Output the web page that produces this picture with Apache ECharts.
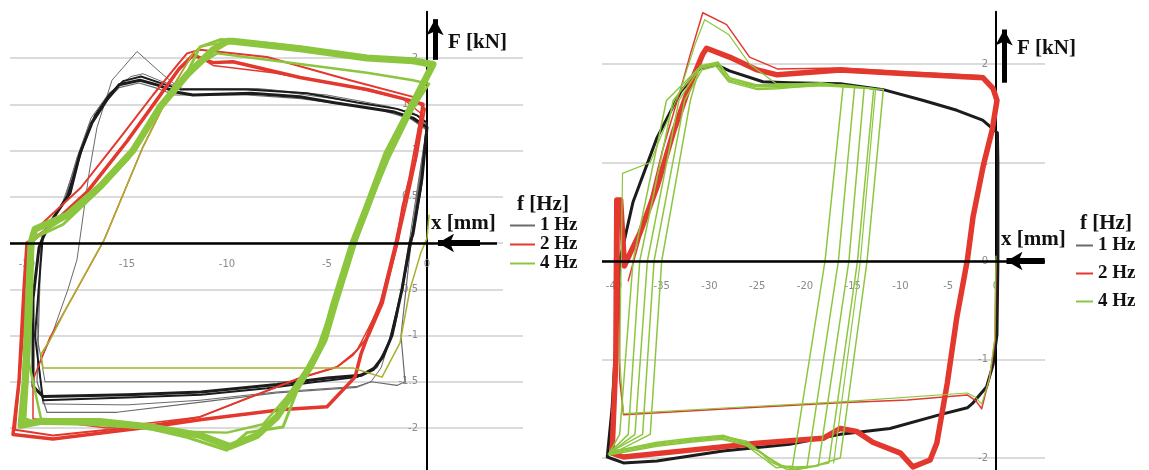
<!DOCTYPE html>
<html>
<head>
<meta charset="utf-8">
<script src="https://cdn.jsdelivr.net/npm/echarts@6/dist/echarts.min.js"></script>
<style>
  html, body { margin: 0; padding: 0; background: #fff; }
  #chart { width: 1149px; height: 470px; }
</style>
</head>
<body>
<div id="chart"></div>
<script>
// tick labels
var leftXTicks = [-20, -15, -10, -5, 0];
var leftYTicks = [-2, -1.5, -1, -0.5, 0.5, 1, 1.5, 2];
var rightXTicks = [-40, -35, -30, -25, -20, -15, -10, -5, 0];
var rightYTicks = [-2, -1, 0, 1, 2];
var freqs = ['1 Hz', '2 Hz', '4 Hz'];

// ---- left chart, x [mm] / F [kN] ----
// 1 Hz
var leftBlackA = [[0, 1.25], [-0.25, 0.7], [-0.7, 0.1], [-0.85, 0], [-1.25, -0.5], [-1.75, -1.0], [-2.2, -1.23], [-2.7, -1.37], [-3.3, -1.43], [-5, -1.46], [-7.5, -1.53], [-11.3, -1.61], [-15, -1.64], [-19.2, -1.66], [-19.7, -1.55], [-19.7, -0.6], [-19.4, -0.05], [-19, 0.17], [-17.85, 0.54], [-17.35, 0.97], [-16.75, 1.3], [-16, 1.55], [-15.4, 1.71], [-14.35, 1.76], [-13.5, 1.71], [-12.5, 1.63], [-11.7, 1.6], [-8.8, 1.62], [-6.35, 1.58], [-4.7, 1.52], [-1.7, 1.42], [-0.7, 1.35], [0, 1.25]];
var leftBlackB = [[0, 1.3], [-0.3, 0.6], [-0.8, 0], [-1.3, -0.55], [-1.9, -1.08], [-2.5, -1.33], [-3.5, -1.45], [-5.5, -1.5], [-8, -1.57], [-11.3, -1.64], [-15, -1.67], [-19.2, -1.7], [-19.6, -1.0], [-19.2, 0.1], [-18, 0.5], [-17.2, 1.05], [-16.6, 1.38], [-15.9, 1.6], [-15.2, 1.75], [-14.3, 1.8], [-13.2, 1.72], [-12.3, 1.66], [-9, 1.66], [-6, 1.62], [-3.5, 1.52], [-1.5, 1.45], [-0.5, 1.38], [0, 1.3]];
var leftBlackC = [[0, 1.28], [-0.9, 0], [-1.5, -0.8], [-2.3, -1.35], [-2.8, -1.5], [-3.5, -1.55], [-7.5, -1.61], [-11.35, -1.7], [-15, -1.75], [-19.2, -1.74], [-19.4, -1.3], [-18.85, -1.05], [-17.95, -0.5], [-17.5, -0.18], [-16.9, 0.75], [-16.5, 1.25], [-15.75, 1.76], [-14.5, 2.07], [-13.2, 1.82], [-12.3, 1.66], [-8, 1.66], [-4.7, 1.56], [-1.7, 1.46], [-0.5, 1.38], [0, 1.28]];
var leftBlackD = [[0, 1.22], [-0.8, 0], [-1.3, -1.0], [-1.1, -1.5], [-1.5, -1.54], [-2.8, -1.5], [-3.5, -1.56], [-7.5, -1.62], [-11.3, -1.72], [-15.5, -1.83], [-19, -1.83], [-19.5, -1.5], [-19.3, 0], [-18.1, 0.48], [-17.5, 0.92], [-16.9, 1.28], [-16.1, 1.52], [-15.4, 1.68], [-14.4, 1.73], [-13.6, 1.68], [-12.6, 1.6], [-9, 1.6], [-6.3, 1.56], [-2.5, 1.45], [-0.8, 1.34], [0, 1.22]];
var leftBlackE = [[0, 1.27], [-0.8, 0.05], [-1.6, -0.9], [-2.5, -1.35], [-3.3, -1.44], [-7.2, -1.5], [-19.1, -1.5], [-19.5, -1.0], [-19.3, 0], [-18.2, 0.45], [-17.4, 0.95], [-16.8, 1.35], [-15.9, 1.62], [-14.8, 1.8], [-14.2, 1.83], [-13.3, 1.75], [-12.2, 1.67], [-8.5, 1.67], [-5, 1.6], [-2, 1.48], [-0.6, 1.4], [0, 1.27]];
// 2 Hz
var leftRedA = [[-0.2, 1.5], [-0.6, 0.9], [-1.2, 0.39], [-1.5, 0], [-2.25, -0.62], [-2.7, -0.85], [-3.3, -1.2], [-3.6, -1.45], [-5, -1.77], [-7.2, -1.8], [-11.35, -1.91], [-13.85, -1.99], [-16.5, -2.06], [-18.7, -2.12], [-20.7, -2.07], [-20.4, -1.5], [-20.15, -0.5], [-20.0, 0], [-19.6, 0.05], [-19, 0.15], [-17, 0.55], [-15, 1.1], [-13.5, 1.55], [-12.4, 1.88], [-11.7, 2.03], [-10.7, 1.95], [-9.7, 1.96], [-6.35, 1.79], [-3, 1.66], [-1, 1.55], [-0.2, 1.5]];
var leftRedB = [[-0.1, 1.45], [-0.5, 0.95], [-1.0, 0.45], [-1.45, 0.03], [-2.2, -0.65], [-2.9, -1.0], [-3.7, -1.21], [-4.5, -1.34], [-6.35, -1.46], [-9, -1.68], [-11.35, -1.88], [-13.85, -1.97], [-18.7, -2.08], [-20.6, -2.02], [-20.2, -1.0], [-19.8, 0.1], [-19.3, 0.2], [-17.3, 0.6], [-15.3, 1.15], [-13.7, 1.6], [-12.5, 1.92], [-12, 2.05], [-11.35, 2.09], [-8, 2.01], [-3.85, 1.76], [-0.7, 1.58], [-0.1, 1.45]];
var leftRedC = [[-0.3, 1.4], [-0.9, 0.7], [-1.3, 0.3], [-1.6, 0], [-2.4, -0.7], [-3.5, -1.16], [-4.5, -1.34], [-6.35, -1.46], [-11.35, -1.88], [-16, -2.0], [-19.7, -1.9], [-19.7, -1.48], [-18.85, -1.02], [-17.5, -0.5], [-16.15, 0.03], [-14.2, 1.04], [-12.7, 1.69], [-11.7, 2.05], [-10.7, 1.92], [-7.7, 1.84], [-4, 1.7], [-1.2, 1.56], [-0.3, 1.4]];
// 4 Hz
var leftGreenA = [[0.3, 1.93], [-0.7, 1.51], [-2, 0.97], [-3, 0.39], [-3.7, 0], [-4.7, -0.69], [-5.15, -1.05], [-5.85, -1.34], [-6.7, -1.62], [-7.5, -1.88], [-8.5, -2.08], [-9.85, -2.2], [-11.35, -2.08], [-13.8, -1.99], [-16.35, -1.93], [-19.35, -1.93], [-20.3, -1.97], [-20.1, -1.5], [-19.9, -0.5], [-19.8, 0], [-19.6, 0.15], [-18, 0.3], [-16.3, 0.62], [-14.7, 1.0], [-13.35, 1.47], [-12, 1.82], [-10.7, 2.09], [-10, 2.18], [-9.7, 2.18], [-6.35, 2.1], [-3, 2.0], [-0.7, 1.97], [0.3, 1.93]];
var leftGreenB = [[0.2, 1.9], [-0.5, 1.6], [-1.8, 1.05], [-2.8, 0.45], [-3.5, 0.05], [-4.5, -0.65], [-5.0, -1.02], [-5.7, -1.32], [-6.5, -1.6], [-7.2, -1.99], [-9, -2.05], [-10, -2.24], [-12, -2.1], [-14, -2.0], [-17, -1.96], [-19.5, -1.95], [-20.1, -1.9], [-19.8, -0.8], [-19.7, 0.05], [-18.2, 0.2], [-16.5, 0.55], [-14.9, 0.92], [-13.5, 1.4], [-12.2, 1.75], [-11.35, 2.12], [-10.3, 2.2], [-8, 2.16], [-6.35, 2.12], [-3, 2.01], [-0.7, 1.98], [0.2, 1.9]];
var leftGreenC = [[0.1, 1.72], [-0.7, 1.45], [-1.9, 0.92], [-3.1, 0.3], [-3.9, -0.1], [-4.8, -0.72], [-5.5, -1.15], [-6.1, -1.38], [-7, -1.66], [-8.2, -1.96], [-10, -2.05], [-12, -2.04], [-15, -1.97], [-19.3, -1.9], [-19.9, -1.3], [-19.8, 0], [-19.2, 0.12], [-17.5, 0.35], [-15.8, 0.72], [-14.4, 1.12], [-13, 1.58], [-11.8, 1.88], [-10.5, 2.05], [-8, 1.98], [-3, 1.84], [-0.7, 1.76], [0.1, 1.72]];
var leftGreenD = [[0.1, 0.3], [0, 0.05], [-0.3, -0.1], [-0.85, -0.5], [-1.35, -1.08], [-2.25, -1.45], [-3, -1.4], [-3.7, -1.35], [-19.2, -1.35], [-19.3, -1.2], [-18.85, -1.05], [-18, -0.69], [-16.15, 0.03], [-14.2, 1.04], [-12.7, 1.69], [-11.7, 2.05], [-11.35, 2.12], [-9.7, 2.19], [-6.35, 2.12], [-3, 2.0], [-0.7, 1.98], [0.3, 1.95]];

// ---- right chart ----
// 1 Hz
var rightBlackA = [[0.15, 1.3], [0.2, 1.0], [0.2, 0], [0.1, -0.75], [-0.3, -1.05], [-1, -1.28], [-2.4, -1.44], [-3, -1.49], [-5.85, -1.56], [-11.1, -1.7], [-16.3, -1.76], [-21.6, -1.86], [-28.6, -1.93], [-35.5, -2.03], [-39, -2.05], [-40.7, -1.99], [-40.2, -1.5], [-39.6, -0.5], [-39.4, 0], [-38, 0.6], [-35.5, 1.25], [-33, 1.72], [-31, 1.96], [-29.2, 1.99], [-27.9, 1.93], [-24.4, 1.82], [-21.6, 1.81], [-16.3, 1.8], [-11.8, 1.74], [-7.6, 1.63], [-4.1, 1.53], [-1.4, 1.43], [0.15, 1.3]];
// 2 Hz
var rightRedA = [[0.1, 1.63], [-0.4, 1.33], [-1.35, 0.96], [-2.4, 0.45], [-3, 0.01], [-4.1, -0.57], [-5.1, -1.24], [-6.2, -1.85], [-6.9, -2.02], [-8.7, -2.09], [-10, -1.95], [-12.9, -1.84], [-14.6, -1.73], [-16.3, -1.7], [-18.1, -1.8], [-25, -1.85], [-32, -1.92], [-39, -1.99], [-40.2, -1.95], [-39.8, -1.0], [-39.7, 0.62], [-39.3, 0.62], [-38.9, -0.05], [-38.3, 0.08], [-37.3, 0.28], [-35.5, 0.75], [-33.8, 1.3], [-32, 1.8], [-30.7, 2.1], [-30.3, 2.16], [-27.9, 2.07], [-25, 1.94], [-22.9, 1.89], [-16.3, 1.94], [-9.3, 1.9], [-1.35, 1.86], [-0.3, 1.75], [0.1, 1.63]];
var rightRedB = [[-38.5, -0.2], [-36.5, 0.5], [-34.9, 1.13], [-33, 1.75], [-32, 2.1], [-30.7, 2.52], [-28.2, 2.4], [-25.8, 2.07], [-22.9, 1.95], [-16.3, 1.96], [-9.3, 1.92], [-1.35, 1.88], [-0.2, 1.7], [0.1, 1.6]];
var rightRedC = [[0, 0], [-0.1, -0.8], [-0.6, -1.15], [-1.5, -1.5], [-2.1, -1.42], [-3, -1.36], [-9.3, -1.41], [-16.3, -1.44], [-28, -1.5], [-39, -1.56], [-39.4, -1.2], [-39.5, 0.5]];
// 4 Hz
var rightGreenA = [[-11.8, 1.74], [-13.5, 0], [-16.3, -2.0], [-19, -2.08], [-22, -2.1], [-24, -1.99], [-26.1, -1.85], [-28.6, -1.79], [-32, -1.82], [-35.5, -1.85], [-40.5, -1.95], [-39.4, -1.76], [-38, 0], [-34.5, 1.63], [-31, 1.97], [-29.2, 2.0], [-27.9, 1.83], [-25, 1.77], [-22.9, 1.77], [-18.1, 1.79], [-11.8, 1.74]];
var rightGreenB = [[-12.8, 1.75], [-14.5, 0], [-17.5, -2.05], [-20, -2.1], [-22.5, -2.08], [-24.2, -1.97], [-26.1, -1.83], [-28.6, -1.78], [-32, -1.81], [-35.5, -1.86], [-40.3, -1.93], [-38.5, -1.76], [-37.3, 0], [-33.8, 1.63], [-31.2, 1.95], [-29.4, 1.99], [-28, 1.84], [-25, 1.75], [-22.9, 1.76], [-18.1, 1.78], [-12.8, 1.75]];
var rightGreenC = [[-13.8, 1.76], [-15.4, 0], [-18.6, -2.08], [-21, -2.12], [-23, -2.06], [-24.5, -1.95], [-26.3, -1.86], [-28.8, -1.8], [-32, -1.83], [-35.5, -1.87], [-40.6, -1.96], [-37.8, -1.76], [-36.5, 0], [-33.2, 1.63], [-31, 1.96], [-29.1, 2.01], [-27.8, 1.85], [-25.2, 1.78], [-22.8, 1.78], [-18, 1.8], [-13.8, 1.76]];
var rightGreenD = [[-14.8, 1.77], [-16.5, 0], [-19.8, -2.1], [-21.8, -2.12], [-23.6, -2.04], [-24.8, -1.93], [-26.4, -1.84], [-28.5, -1.77], [-32, -1.8], [-35.5, -1.84], [-40.4, -1.94], [-37, -1.76], [-35.8, 0], [-32.6, 1.63], [-30.8, 1.94], [-29.3, 1.98], [-28, 1.82], [-25, 1.74], [-22.9, 1.75], [-18.2, 1.79], [-14.8, 1.77]];
var rightGreenE = [[-16.0, 1.78], [-17.9, 0], [-21.3, -2.08], [-23, -2.1], [-24.4, -2.0], [-26.2, -1.87], [-28.7, -1.81], [-32, -1.84], [-35.5, -1.88], [-40.5, -1.97], [-36.2, -1.76], [-35, 0], [-32, 1.63], [-31, 1.98], [-29.1, 2.02], [-27.9, 1.86], [-25.1, 1.79], [-22.9, 1.79], [-18.3, 1.81], [-16.0, 1.78]];
var rightGreenF = [[0, 0.05], [-0.15, -0.8], [-0.7, -1.2], [-1.5, -1.45], [-2.2, -1.38], [-3, -1.34], [-16.3, -1.43], [-28, -1.49], [-39, -1.55], [-39.4, -1.0], [-39.1, 0.89], [-36.2, 1.0], [-34.5, 1.4], [-33, 1.75], [-31.5, 2.2], [-30.5, 2.45], [-28, 2.3], [-25.8, 2.0], [-23, 1.8], [-16, 1.79], [-12.6, 1.75], [-14.2, 0], [-17, -2.05]];

var BLACK = '#1c1c1c', GREY = '#6a6a6a', RED = '#e2382d', GREEN = '#8cc63f', OLIVE = '#a9b12c';

function loop(name, data, idx, color, width, z) {
  return {
    name: name, type: 'line', data: data,
    xAxisIndex: idx, yAxisIndex: idx,
    symbol: 'none', showSymbol: false, smooth: false,
    lineStyle: { color: color, width: width, join: 'round', cap: 'round' },
    itemStyle: { color: color },
    z: z, silent: true
  };
}

// axis lines + arrows drawn as markLines in axis coordinates
function axisDecor(idx, xFrom, xTo, arrowX, arrowY) {
  return {
    type: 'line', xAxisIndex: idx, yAxisIndex: idx, data: [], symbol: 'none', silent: true, z: 10,
    markLine: {
      silent: true, symbol: ['none', 'none'], label: { show: false },
      emphasis: { disabled: true },
      lineStyle: { color: '#000', width: 2.5, type: 'solid' },
      data: [
        [{ coord: [xFrom, 0] }, { coord: [xTo, 0] }],
        [{ coord: arrowX[0], lineStyle: { width: 6, color: '#000', type: 'solid' } },
         { coord: arrowX[1], symbol: 'arrow', symbolSize: [14, 16] }],
        [{ coord: arrowY[0], lineStyle: { width: 5, color: '#000', type: 'solid' } },
         { coord: arrowY[1], symbol: 'arrow', symbolSize: [13, 16] }]
      ]
    }
  };
}

var labelStyle = { color: '#8a8a8a', fontSize: 10, fontFamily: 'DejaVu Sans' };
var gridLine = { show: true, showMinLine: false, showMaxLine: false, lineStyle: { color: '#cfcfcf', width: 1.5 } };

var chart = echarts.init(document.getElementById('chart'), null, { renderer: 'canvas' });

// grids: left chart 20 px/mm, 92.5 px/kN; right chart 9.55 px/mm, 98.5 px/kN
// axes are moved onto the zero lines with offset (x = 0 at 427 / 996 px, F = 0 at 243 / 261 px)
var option = {
  animation: false,
  backgroundColor: '#fff',
  grid: [
    { left: 10, top: 11.75, width: 513, height: 462.5, containLabel: false, outerBoundsMode: 'none' },
    { left: 602, top: 11.8, width: 443, height: 544.7, containLabel: false, outerBoundsMode: 'none' }
  ],
  xAxis: [
    { gridIndex: 0, type: 'value', min: -20.85, max: 4.8, position: 'bottom', offset: -231.25,
      axisLine: { show: false, onZero: false }, axisTick: { show: false }, splitLine: { show: false },
      axisLabel: Object.assign({ customValues: leftXTicks, margin: 16 }, labelStyle) },
    { gridIndex: 1, type: 'value', min: -41.25, max: 5.13, position: 'bottom', offset: -295.5,
      axisLine: { show: false, onZero: false }, axisTick: { show: false }, splitLine: { show: false },
      axisLabel: Object.assign({ customValues: rightXTicks, margin: 20 }, labelStyle) }
  ],
  yAxis: [
    { gridIndex: 0, type: 'value', min: -2.5, max: 2.5, interval: 0.5, position: 'left', offset: -417,
      axisLine: { show: true, onZero: false, lineStyle: { color: '#000', width: 2 } },
      axisTick: { show: false }, splitLine: gridLine,
      axisLabel: Object.assign({ customValues: leftYTicks, margin: 9 }, labelStyle) },
    { gridIndex: 1, type: 'value', min: -3, max: 2.53, interval: 1, position: 'left', offset: -394,
      axisLine: { show: true, onZero: false, lineStyle: { color: '#000', width: 2 } },
      axisTick: { show: false }, splitLine: gridLine,
      axisLabel: Object.assign({ customValues: rightYTicks, margin: 8 }, labelStyle) }
  ],
  legend: [
    { data: [{ name: '1 Hz', itemStyle: { color: GREY } }, { name: '2 Hz', itemStyle: { color: RED } }, { name: '4 Hz', itemStyle: { color: GREEN } }],
      orient: 'vertical', left: 503, top: 194, padding: [22, 8, 22, 7], itemGap: 0,
      backgroundColor: '#fff', icon: 'rect', itemWidth: 25, itemHeight: 2, selectedMode: false,
      textStyle: { fontFamily: 'Liberation Serif', fontWeight: 'bold', fontSize: 19, color: '#111', lineHeight: 19 } },
    { data: [{ name: '1 Hz', itemStyle: { color: GREY } }, { name: '2 Hz', itemStyle: { color: RED } }, { name: '4 Hz', itemStyle: { color: GREEN } }],
      orient: 'vertical', left: 1076, top: 236, padding: 0, itemGap: 9,
      icon: 'rect', itemWidth: 17, itemHeight: 2, selectedMode: false,
      textStyle: { fontFamily: 'Liberation Serif', fontWeight: 'bold', fontSize: 19, color: '#111', lineHeight: 19 } }
  ],
  graphic: [
    { type: 'text', x: 448, y: 43, z: 100, style: { text: 'F [kN]', font: 'bold 21px "Liberation Serif"', fill: '#111', verticalAlign: 'middle' } },
    { type: 'text', x: 431, y: 224, z: 100, style: { text: 'x [mm]', font: 'bold 21px "Liberation Serif"', fill: '#111', verticalAlign: 'middle' } },
    { type: 'text', x: 517, y: 205, z: 100, style: { text: 'f [Hz]', font: 'bold 21px "Liberation Serif"', fill: '#111', verticalAlign: 'middle' } },
    { type: 'text', x: 1017, y: 49, z: 100, style: { text: 'F [kN]', font: 'bold 21px "Liberation Serif"', fill: '#111', verticalAlign: 'middle' } },
    { type: 'text', x: 1001, y: 240, z: 100, style: { text: 'x [mm]', font: 'bold 21px "Liberation Serif"', fill: '#111', verticalAlign: 'middle' } },
    { type: 'text', x: 1080, y: 224, z: 100, style: { text: 'f [Hz]', font: 'bold 21px "Liberation Serif"', fill: '#111', verticalAlign: 'middle' } }
  ],
  series: [
    // left
    loop('1 Hz', leftBlackE, 0, GREY, 1, 2),
    loop('1 Hz', leftBlackC, 0, GREY, 1, 2),
    loop('1 Hz', leftBlackD, 0, GREY, 1.2, 2),
    loop('1 Hz', leftBlackB, 0, BLACK, 2, 2),
    loop('1 Hz', leftBlackA, 0, BLACK, 3, 2),
    loop('2 Hz', leftRedC, 0, RED, 1.5, 3),
    loop('2 Hz', leftRedB, 0, RED, 2, 3),
    loop('2 Hz', leftRedA, 0, RED, 3.5, 3),
    loop('4 Hz', leftGreenD, 0, OLIVE, 1.5, 4),
    loop('4 Hz', leftGreenC, 0, GREEN, 2.5, 4),
    loop('4 Hz', leftGreenB, 0, GREEN, 3, 4),
    loop('4 Hz', leftGreenA, 0, GREEN, 7, 4),
    // right
    loop('1 Hz', rightBlackA, 1, BLACK, 3, 2),
    loop('2 Hz', rightRedC, 1, RED, 1.5, 3),
    loop('2 Hz', rightRedB, 1, RED, 1.5, 3),
    loop('2 Hz', rightRedA, 1, RED, 5.5, 3),
    loop('4 Hz', rightGreenA, 1, GREEN, 1.5, 4),
    loop('4 Hz', rightGreenB, 1, GREEN, 1.5, 4),
    loop('4 Hz', rightGreenC, 1, GREEN, 1.5, 4),
    loop('4 Hz', rightGreenD, 1, GREEN, 1.5, 4),
    loop('4 Hz', rightGreenE, 1, GREEN, 1.5, 4),
    loop('4 Hz', rightGreenF, 1, GREEN, 1.2, 4),
    // axes
    axisDecor(0, -20.85, 3.5, [[2.65, 0], [0.55, 0]], [[0.4, 1.98], [0.4, 2.42]]),
    axisDecor(1, -41.25, 5.13, [[5.1, 0], [1.1, 0]], [[0.85, 1.81], [0.85, 2.35]])
  ]
};

chart.setOption(option);
</script>
</body>
</html>
